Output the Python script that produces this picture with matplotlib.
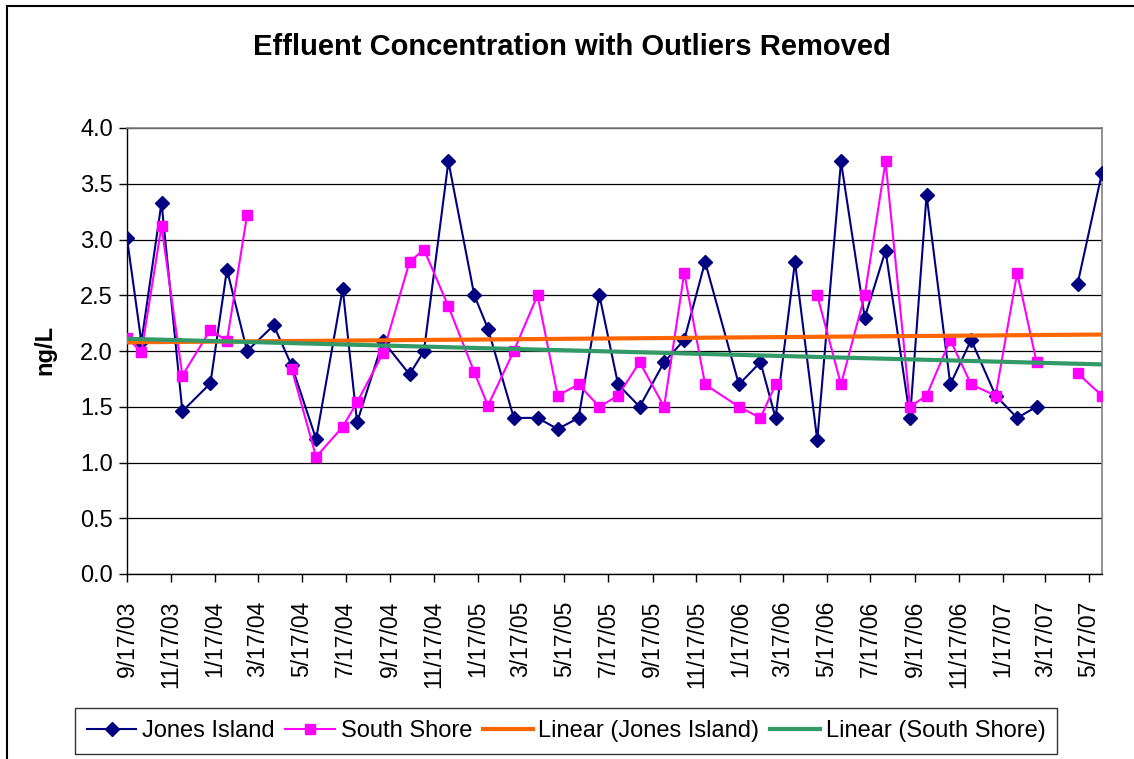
import numpy as np
import matplotlib
matplotlib.use("Agg")
import matplotlib.pyplot as plt
import matplotlib.dates as mdates
from matplotlib.patches import Rectangle

plt.rcParams["font.family"] = ["Liberation Sans", "DejaVu Sans"]

# sampling dates shared by both plants
dates = [
    "2003-09-17", "2003-10-07", "2003-11-04", "2003-12-03", "2004-01-11",
    "2004-02-03", "2004-03-02", "2004-04-08", "2004-05-03", "2004-06-06",
    "2004-07-13", "2004-08-02", "2004-09-07", "2004-10-14", "2004-11-03",
    "2004-12-07", "2005-01-12", "2005-01-31", "2005-03-08", "2005-04-10",
    "2005-05-08", "2005-06-06", "2005-07-05", "2005-07-31", "2005-08-30",
    "2005-10-03", "2005-10-31", "2005-11-29", "2006-01-15", "2006-02-14",
    "2006-03-07", "2006-04-03", "2006-05-04", "2006-06-06", "2006-07-09",
    "2006-08-07", "2006-09-10", "2006-10-03", "2006-11-05", "2006-12-04",
    "2007-01-07", "2007-02-06", "2007-03-05", "2007-04-02", "2007-05-01",
    "2007-06-04",
]

jones_island = [
    3.01, 2.08, 3.33, 1.46, 1.71, 2.73, 2.00, 2.23, 1.87, 1.21,
    2.56, 1.36, 2.09, 1.79, 2.00, 3.70, 2.50, 2.20, 1.40, 1.40,
    1.30, 1.40, 2.50, 1.70, 1.50, 1.90, 2.10, 2.80, 1.70, 1.90,
    1.40, 2.80, 1.20, 3.70, 2.30, 2.90, 1.40, 3.40, 1.70, 2.10,
    1.60, 1.40, 1.50, None, 2.60, 3.60,
]

south_shore = [
    2.12, 1.99, 3.12, 1.78, 2.19, 2.09, 3.22, None, 1.84, 1.05,
    1.32, 1.54, 1.98, 2.80, 2.91, 2.40, 1.81, 1.51, 2.00, 2.50,
    1.60, 1.70, 1.50, 1.60, 1.90, 1.50, 2.70, 1.70, 1.50, 1.40,
    1.70, None, 2.50, 1.70, 2.50, 3.70, 1.50, 1.60, 2.10, 1.70,
    1.60, 2.70, 1.90, None, 1.80, 1.60,
]

x = mdates.datestr2num(dates)
ji = np.array(jones_island, dtype=float)
ss = np.array(south_shore, dtype=float)


def linear_trend(xv, yv):
    ok = ~np.isnan(yv)
    slope, icpt = np.polyfit(xv[ok], yv[ok], 1)
    xs = np.array([xv.min(), xv.max()])
    return xs, slope * xs + icpt


fig = plt.figure(figsize=(11.34, 7.59), dpi=100)
ax = fig.add_axes([127 / 1134, 1 - 574 / 759, (1102 - 127) / 1134, (574 - 128) / 759])

ax.plot(x, ji, color="#000080", lw=1.5, marker="D", ms=7.5,
        label="Jones Island", zorder=3)
ax.plot(x, ss, color="#FF00FF", lw=1.5, marker="s", ms=7.5,
        label="South Shore", zorder=3)

tx, ty = linear_trend(x, ji)
ax.plot(tx, ty, color="#FF6600", lw=3, label="Linear (Jones Island)", zorder=4)
tx, ty = linear_trend(x, ss)
ax.plot(tx, ty, color="#339966", lw=3, label="Linear (South Shore)", zorder=4)

ax.set_xlim(x.min(), x.max())
ax.set_ylim(0, 4)
ax.set_yticks(np.arange(0, 4.01, 0.5))
ax.yaxis.set_major_formatter(plt.FormatStrFormatter("%.1f"))
ax.xaxis.set_major_locator(mdates.MonthLocator(bymonth=[1, 3, 5, 7, 9, 11], bymonthday=17))
ax.xaxis.set_major_formatter(mdates.DateFormatter("%-m/%d/%y"))
ax.tick_params(axis="x", labelrotation=90, labelsize=16.5, length=6, width=1, pad=13)
ax.tick_params(axis="y", labelsize=17, length=6, width=1, pad=4)

ax.grid(axis="y", color="black", lw=0.9)
ax.set_axisbelow(True)
for side in ("top", "right"):
    ax.spines[side].set_color("#808080")
    ax.spines[side].set_linewidth(1.2)
for side in ("left", "bottom"):
    ax.spines[side].set_color("black")
    ax.spines[side].set_linewidth(1)

fig.text(572 / 1134, 1 - 47 / 759, "Effluent Concentration with Outliers Removed",
         ha="center", va="center", fontsize=21, fontweight="bold")
fig.text(45 / 1134, 1 - 350 / 759, "ng/L", rotation=90, ha="center", va="center",
         fontsize=17, fontweight="bold")

leg = fig.legend(loc="center", bbox_to_anchor=(566 / 1134, 1 - 731 / 759), ncol=4,
                 fontsize=17, frameon=True, fancybox=False, borderpad=0.5,
                 handlelength=2.1, handletextpad=0.25, columnspacing=0.45,
                 borderaxespad=0)
leg.get_frame().set_edgecolor("black")
leg.get_frame().set_linewidth(1)

# chart area border (cut off at the right and bottom)
fig.patches.append(Rectangle((7 / 1134, -0.1), 1.2, 1 - 6 / 759 + 0.1,
                             transform=fig.transFigure, fill=False,
                             edgecolor="black", lw=1.5))

fig.savefig("out.png", dpi=100)
